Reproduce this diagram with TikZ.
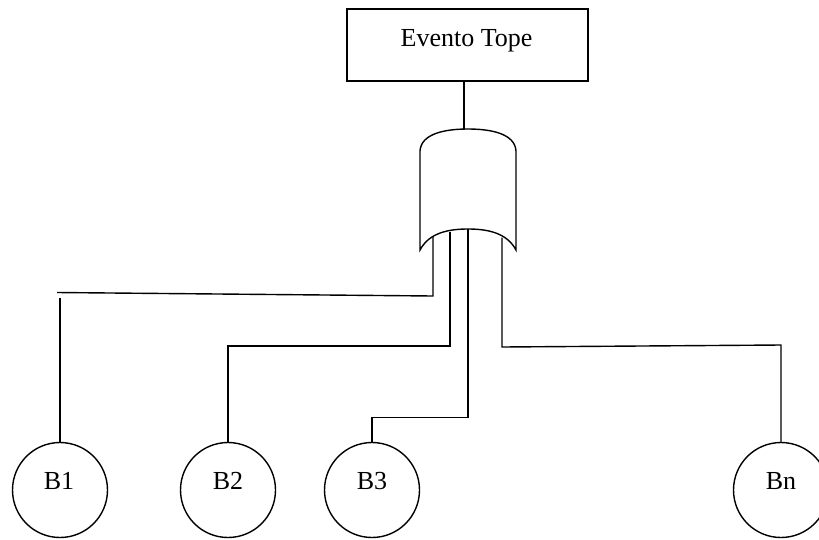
\documentclass[tikz,border=0pt]{standalone}
\usepackage{fontspec}
\setmainfont{Liberation Serif}
\begin{document}
\begin{tikzpicture}[x=1pt,y=-1pt,
  wire/.style={line width=1.4pt,line join=miter},
  eventbox/.style={draw,line width=1.4pt,minimum width=241pt,minimum height=72pt,inner sep=0pt},
  basic/.style={draw,circle,line width=1.4pt,minimum size=95pt,inner sep=0pt},
  lbl/.style={font=\fontsize{26}{31}\selectfont,anchor=base,inner sep=0pt}]
\useasboundingbox (0,0) rectangle (819,539);
\clip (0,0) rectangle (819,539);

% top event
\node[eventbox] (top) at (467.5,45) {};
\node[lbl] (toptext) at (466.5,46) {Evento Tope};

% OR gate
\coordinate (gout) at (464,129);
\draw[wire] (420,250) -- (420,151)
  .. controls (421,134) and (444,129) .. (468,129)
  .. controls (492,129) and (515,134) .. (516,151)
  -- (516,250)
  .. controls (507,233) and (488,229) .. (468,229)
  .. controls (448,229) and (429,233) .. cycle;

% gate inputs on the concave base
\coordinate (in1) at (433,236);
\coordinate (in2) at (450,231.5);
\coordinate (in3) at (468,229);
\coordinate (in4) at (502,237.5);

% basic events
\node[basic] (b1) at (60,490) {};
\node[basic] (b2) at (228,490) {};
\node[basic] (b3) at (372,490) {};
\node[basic] (bn) at (781,490) {};
\node[lbl] at (59,489) {B1};
\node[lbl] at (228,489) {B2};
\node[lbl] at (372,489) {B3};
\node[lbl] at (781,489) {Bn};

% connectors
\coordinate (h1a) at (433,296);
\coordinate (h1b) at (57,292.5);
\coordinate (v1) at (60,298);
\draw[wire] (top.south -| gout) -- (gout);
\draw[wire] (in1) -- (h1a) -- (h1b);
\draw[wire] (v1) -- (b1.north);
\draw[wire] (in2) -- (450,346) -- (228,346) -- (b2.north);
\draw[wire] (in3) -- (468,417.5) -- (372,417.5) -- (b3.north);
\draw[wire] (in4) -- (502,347) -- (781,345) -- (bn.north);
\end{tikzpicture}
\end{document}
